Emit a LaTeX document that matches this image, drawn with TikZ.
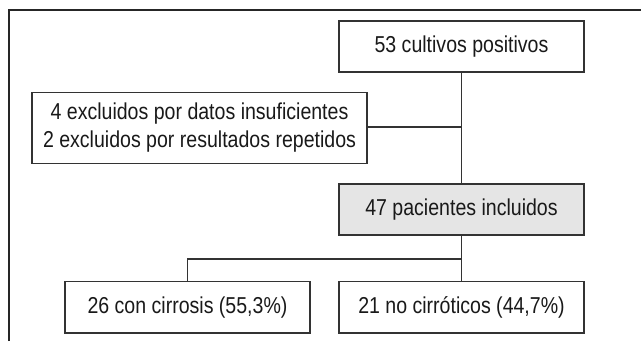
\documentclass[tikz,border=0pt]{standalone}
\usepackage{fontspec}
\setmainfont{Liberation Sans}[FakeStretch=0.85]
\begin{document}
\begin{tikzpicture}[x=1pt,y=-1pt,
  box/.style={draw=black!80,line width=1.1pt,rectangle,inner sep=0pt,align=center,
    text=black!90,font=\fontsize{23}{28}\selectfont},
  conn/.style={draw=black!80,line width=1.1pt},
  frame/.style={draw=black!85,line width=1.8pt}]
\useasboundingbox (0,0) rectangle (641,341);
\draw[frame] (9,341) -- (9,10) -- (641,10);
\node[box,minimum width=245pt,minimum height=51pt] (cult) at (461.5,46.5) {53 cultivos positivos};
\node[box,minimum width=335pt,minimum height=71pt] (excl) at (199.5,128) {4 excluidos por datos insuficientes\\2 excluidos por resultados repetidos};
\node[box,fill=black!10,minimum width=245pt,minimum height=51pt] (pac) at (461.5,209.5) {47 pacientes incluidos};
\node[box,minimum width=245pt,minimum height=51.5pt] (cir) at (187.5,307.25) {26 con cirrosis (55,3\%)};
\node[box,minimum width=245pt,minimum height=51.5pt] (nocir) at (461.5,307.25) {21 no cirróticos (44,7\%)};
\coordinate (j1) at (pac.north |- 0,127);
\coordinate (j2) at (pac.south |- 0,259);
\draw[conn] (cult.south) -- (pac.north);
\draw[conn] (excl.east |- j1) -- (j1);
\draw[conn] (pac.south) -- (nocir.north);
\draw[conn] (j2) -- (cir.north |- j2) -- (cir.north);
\end{tikzpicture}
\end{document}
